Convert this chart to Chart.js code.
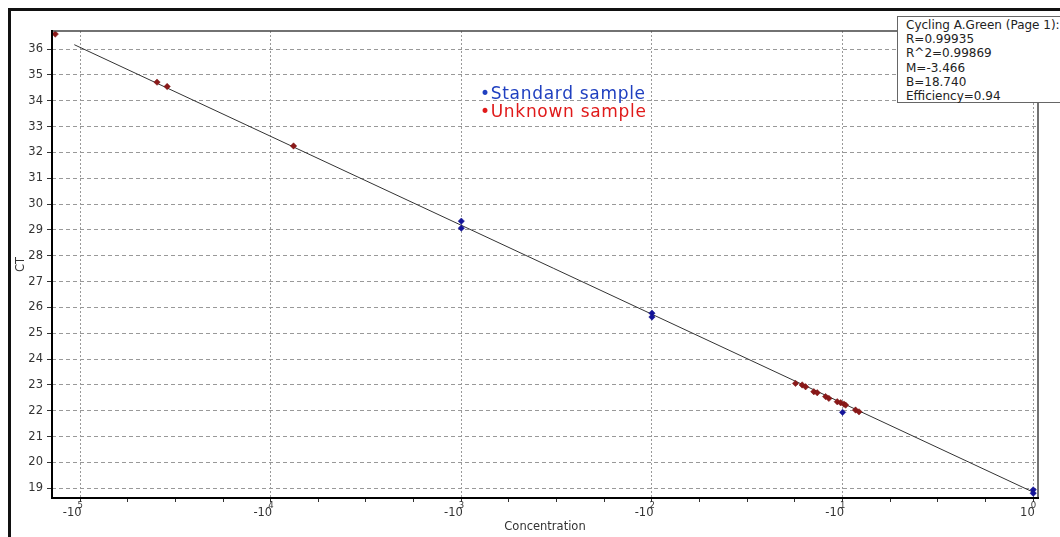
<!DOCTYPE html>
<html><head><meta charset="utf-8">
<script src="https://cdn.jsdelivr.net/npm/chart.js@4.4.0/dist/chart.umd.min.js"></script>
<style>
html,body{margin:0;padding:0;background:#fff;}
#wrap{position:relative;width:1060px;height:537px;overflow:hidden;}
#c{position:absolute;left:0;top:0;}
#frame{position:absolute;left:8px;top:8px;width:1100px;height:600px;border-left:3px solid #111;border-top:3px solid #111;box-sizing:border-box;pointer-events:none;}
#stats{position:absolute;left:897px;top:16px;width:190px;height:87px;background:#fff;border:1px solid #666;box-sizing:border-box;padding:1px 0 0 8px;font:12px "DejaVu Sans";line-height:14.2px;color:#222;white-space:nowrap;}
#legend{position:absolute;left:480px;top:85px;font:17px "DejaVu Sans";letter-spacing:0.7px;line-height:17.5px;white-space:nowrap;}
</style></head>
<body>
<div id="wrap">
<canvas id="c" width="1060" height="537"></canvas>
<div id="frame"></div>
<div id="legend"></div>
<div id="stats"></div>
</div>
<script>
// ---- data ----
const xTickValues = [-5, -4, -3, -2, -1, 0];
const xTickBases = ['-10', '-10', '-10', '-10', '-10', '10'];
const xTickExponents = ['5', '4', '3', '2', '1', '0'];
const yTickValues = [19, 20, 21, 22, 23, 24, 25, 26, 27, 28, 29, 30, 31, 32, 33, 34, 35, 36];

const standardX  = [-3.0, -3.0, -2.0, -2.0, -1.0, 0.0, 0.0];
const standardCt = [29.34, 29.07, 25.78, 25.63, 21.94, 18.94, 18.81];

const unknownX  = [-5.13, -4.596, -4.543, -3.88, -1.247, -1.212, -1.194, -1.151, -1.133, -1.089, -1.072, -1.028, -1.010, -0.993, -0.984, -0.932, -0.914];
const unknownCt = [36.58, 34.72, 34.55, 32.25, 23.06, 23.00, 22.93, 22.74, 22.70, 22.55, 22.48, 22.35, 22.31, 22.26, 22.22, 22.03, 21.96];

const fitX  = [-5.03, 0.0];
const fitCt = [36.17, 18.85];

const statsLines = ['Cycling A.Green (Page 1):', 'R=0.99935', 'R^2=0.99869', 'M=-3.466', 'B=18.740', 'Efficiency=0.94'];
const legendLabels = ['Standard sample', 'Unknown sample'];
const legendColors = ['#2040c0', '#e01a1a'];

// ---- overlays ----
document.getElementById('stats').innerHTML = statsLines.map(s => '<div>' + s + '</div>').join('');
document.getElementById('legend').innerHTML = legendLabels.map((s, i) =>
  '<div style="color:' + legendColors[i] + '">•' + s + '</div>').join('');

const toPts = (xs, ys) => xs.map((x, i) => ({ x: x, y: ys[i] }));
const FONT = 'DejaVu Sans';

const framePlugin = {
  id: 'frame',
  afterDraw(chart) {
    const { ctx, chartArea: { left, top, right, bottom } } = chart;
    ctx.save();
    ctx.strokeStyle = '#444'; ctx.lineWidth = 1.5;
    ctx.beginPath(); ctx.moveTo(left, top); ctx.lineTo(right, top); ctx.lineTo(right, bottom); ctx.stroke();
    ctx.strokeStyle = '#000'; ctx.lineWidth = 2;
    ctx.beginPath(); ctx.moveTo(left, top - 1); ctx.lineTo(left, bottom); ctx.lineTo(right + 1, bottom); ctx.stroke();
    // x tick labels as power-of-ten text
    const xs = chart.scales.x;
    ctx.fillStyle = '#333';
    xTickValues.forEach((v, i) => {
      const px = xs.getPixelForValue(v);
      ctx.font = '11.5px "' + FONT + '"';
      ctx.textAlign = 'right'; ctx.textBaseline = 'middle';
      ctx.fillText(xTickBases[i], px + 1.5, bottom + 15);
      ctx.font = '8.5px "' + FONT + '"';
      ctx.textAlign = 'left';
      ctx.fillText(xTickExponents[i], px - 2.5, bottom + 7.5);
    });
    ctx.restore();
  }
};

new Chart(document.getElementById('c'), {
  type: 'scatter',
  data: {
    datasets: [
      { label: 'fit', data: toPts(fitX, fitCt), showLine: true, borderColor: '#333', borderWidth: 1, pointRadius: 0, order: 3 },
      { label: 'Unknown sample', data: toPts(unknownX, unknownCt), pointStyle: 'rectRot', pointRadius: 3.2,
        backgroundColor: '#8b1a1a', borderColor: '#7a1010', borderWidth: 0.5, order: 2 },
      { label: 'Standard sample', data: toPts(standardX, standardCt), pointStyle: 'rectRot', pointRadius: 3.2,
        backgroundColor: '#14149a', borderColor: '#10108a', borderWidth: 0.5, order: 1 }
    ]
  },
  options: {
    responsive: false, animation: false,
    layout: { padding: { left: 12, top: 31, right: 22, bottom: 3 } },
    plugins: { legend: { display: false }, tooltip: { enabled: false } },
    scales: {
      x: {
        type: 'linear', min: -5.147, max: 0.025,
        afterBuildTicks(scale) {
          const t = [];
          xTickValues.forEach(v => {
            [0, 0.25, 0.5, 0.75].forEach(f => { const p = v + f; if (p >= scale.min && p <= scale.max) t.push({ value: p }); });
          });
          scale.ticks = t;
        },
        afterFit(scale) { scale.height = 36; },
        border: { display: false, dash: [2, 2] },
        grid: {
          color: c => (c.tick && Number.isInteger(c.tick.value)) ? '#999' : 'rgba(0,0,0,0)',
          tickColor: '#333', tickLength: 4, lineWidth: 1
        },
        ticks: { autoSkip: false, maxRotation: 0, padding: 3, callback: () => '' },
        title: { display: true, text: 'Concentration', color: '#333', font: { family: FONT, size: 11.5 }, padding: { top: 0, bottom: 0 } }
      },
      y: {
        type: 'linear', min: 18.625, max: 36.70,
        afterBuildTicks(scale) { scale.ticks = yTickValues.map(v => ({ value: v })); },
        afterFit(scale) { scale.width = 40; },
        border: { display: false, dash: [4, 3] },
        grid: { color: '#999', tickColor: '#333', tickLength: 5, lineWidth: 1 },
        ticks: { padding: 4, color: '#333', font: { family: FONT, size: 11.5 } },
        title: { display: true, text: 'CT', color: '#333', font: { family: FONT, size: 11.5 }, padding: { top: 2, bottom: 0 } }
      }
    }
  },
  plugins: [framePlugin]
});
</script>
</body></html>
